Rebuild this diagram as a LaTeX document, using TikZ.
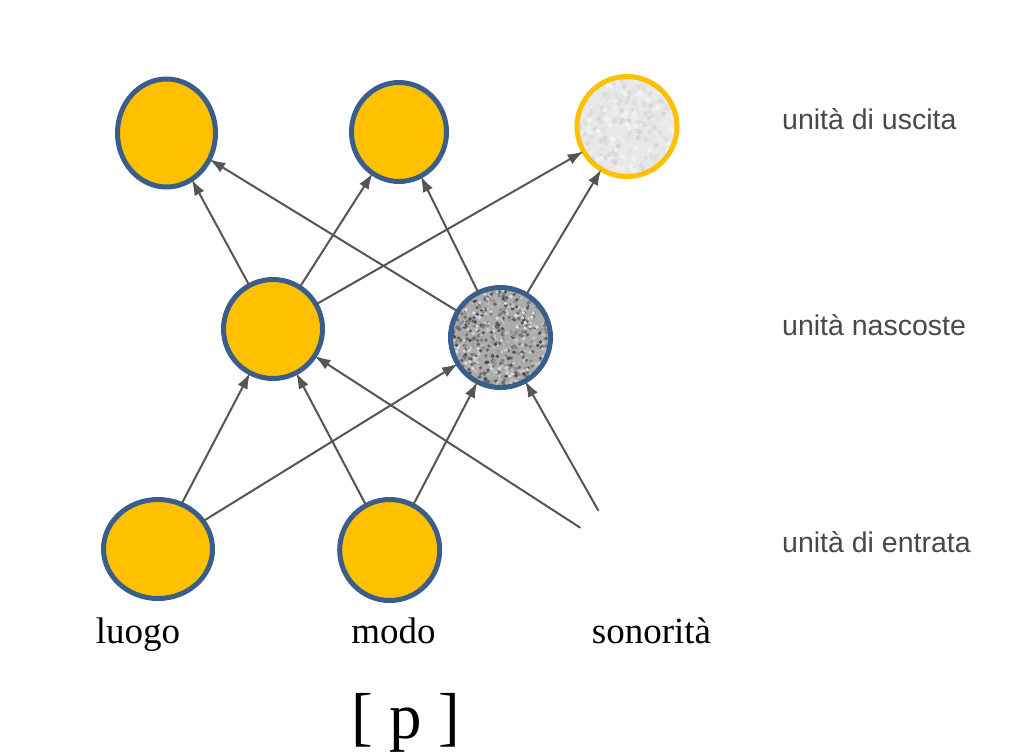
\documentclass[tikz,border=0pt]{standalone}
\usepackage{fontspec}
\setmainfont{Liberation Serif}
\newfontfamily\lsans{Liberation Sans}
\usetikzlibrary{shapes.geometric,arrows.meta}
\definecolor{uyellow}{HTML}{FFC000}
\definecolor{ublue}{HTML}{3A5E8C}
\definecolor{edgegray}{HTML}{555555}
\definecolor{labgray}{HTML}{484848}
\begin{document}
\begin{tikzpicture}[x=1pt,y=-1pt,
  unit/.style={ellipse, draw=ublue, line width=5pt, fill=uyellow, inner sep=0pt, outer sep=0pt},
  darknoise/.style={path picture={
      \foreach \k in {1,...,900}{
        \pgfmathsetmacro\gx{rnd*104-52}
        \pgfmathsetmacro\gy{rnd*104-52}
        \pgfmathsetmacro\gv{12+rnd*60}
        \fill[black!\gv] ([shift={(\gx,\gy)}]path picture bounding box.center) circle (1.9pt);
      }}},
  lightnoise/.style={path picture={
      \foreach \k in {1,...,400}{
        \pgfmathsetmacro\gx{rnd*104-52}
        \pgfmathsetmacro\gy{rnd*104-52}
        \pgfmathsetmacro\gv{4+rnd*12}
        \fill[black!\gv] ([shift={(\gx,\gy)}]path picture bounding box.center) circle (2.5pt);
      }}},
  conn/.style={draw=edgegray, line width=2pt, -{Latex[length=16pt,width=11pt]}},
  inlabel/.style={anchor=base, font=\fontsize{37}{44}\selectfont, inner sep=0pt},
  layerlabel/.style={anchor=base west, font=\lsans\fontsize{28.5}{34}\selectfont, text=labgray, inner sep=0pt}
]
\pgfmathsetseed{7}
\fill[white] (0,0) rectangle (1014,753);
\useasboundingbox (0,0) rectangle (1014,753);

% output units
\node[unit, minimum width=98pt, minimum height=108pt] (o1) at (166.5,133) {};
\node[unit, minimum width=95pt, minimum height=99pt] (o2) at (399,132) {};
\node[unit, draw=uyellow, fill=black!9, lightnoise, minimum width=100pt, minimum height=100pt] (o3) at (627,126.5) {};

% hidden units
\node[unit, minimum width=99pt, minimum height=99pt] (h1) at (273,329) {};
\node[unit, fill=black!33, darknoise, minimum width=100pt, minimum height=100pt] (h2) at (500.5,337.5) {};

% input units
\node[unit, minimum width=109pt, minimum height=99pt] (i1) at (158,549) {};
\node[unit, minimum width=100pt, minimum height=101pt] (i2) at (389.7,550) {};
\node[circle, fill=white, minimum size=104pt, inner sep=0pt, outer sep=0pt] (i3) at (624,556) {};

% connections input -> hidden
\draw[conn] (i1) -- (h1);
\draw[conn] (i1) -- (h2);
\draw[conn] (i2) -- (h1);
\draw[conn] (i2) -- (h2);
\draw[conn] (i3) -- (h1);
\draw[conn] (i3) -- (h2);

% connections hidden -> output
\draw[conn] (h1) -- (o1);
\draw[conn] (h1) -- (o2);
\draw[conn] (h1) -- (o3);
\draw[conn] (h2) -- (o1);
\draw[conn] (h2) -- (o2);
\draw[conn] (h2) -- (o3);

% input labels
\node[inlabel] (lluogo) at (138,643) {luogo};
\node[inlabel] (lmodo) at (393.5,643) {modo};
\node[inlabel] (lson) at (651.5,643) {sonorità};

% layer labels
\node[layerlabel] (lout) at (782,129) {unità di uscita};
\node[layerlabel] (lhid) at (782,335) {unità nascoste};
\node[layerlabel] (lin) at (782,552) {unità di entrata};

% phoneme
\node[anchor=base, font=\fontsize{65}{78}\selectfont, inner sep=0pt] (phon) at (406,738) {[ p ]};
\end{tikzpicture}
\end{document}
